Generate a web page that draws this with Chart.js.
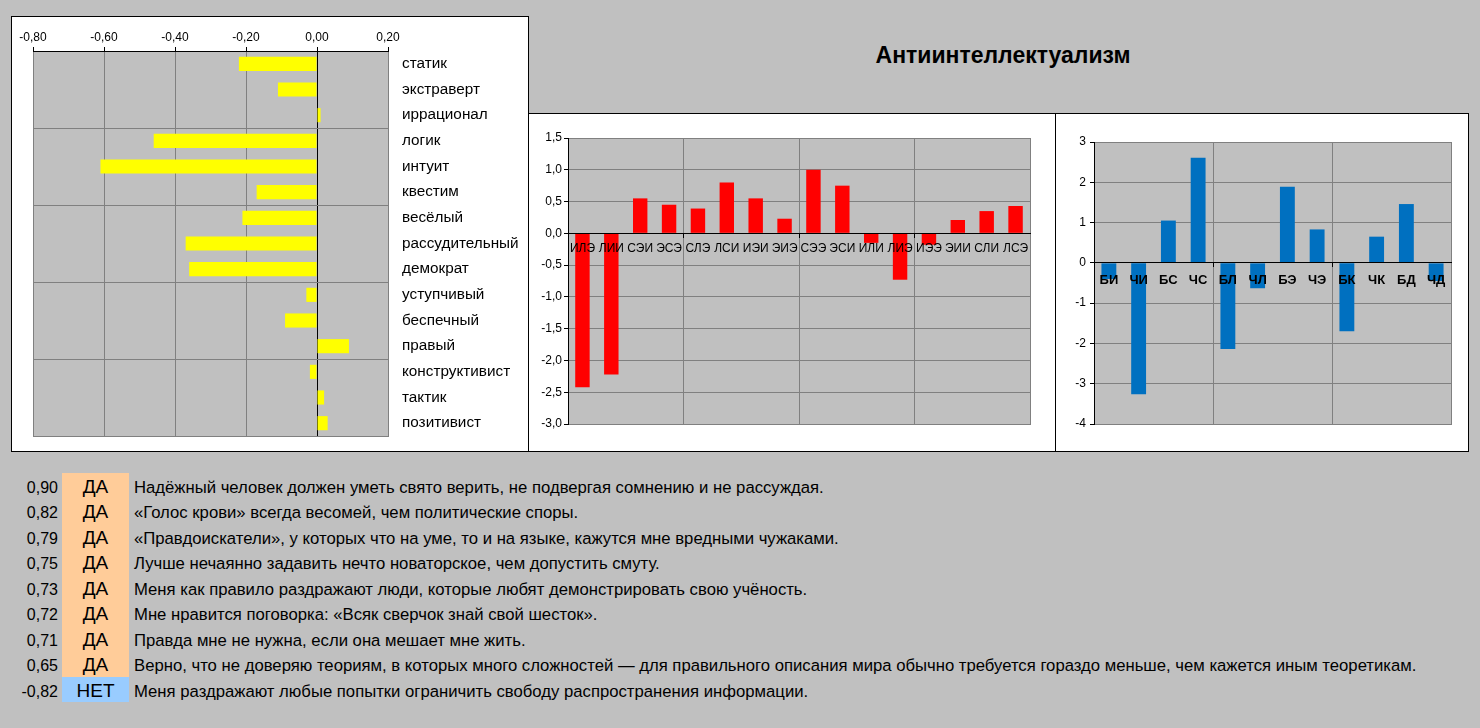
<!DOCTYPE html>
<html>
<head>
<meta charset="utf-8">
<script src="https://cdn.jsdelivr.net/npm/chart.js@4/dist/chart.umd.min.js"></script>
<style>
  body { margin: 0; background: #c0c0c0; font-family: Arial, "Liberation Sans", sans-serif; }
  .panel { position: absolute; box-sizing: border-box; border: 1px solid #000; background: #fff; }
  .panel canvas { display: block; }
  #title { position: absolute; left: 780px; width: 446px; top: 44px; line-height: 23px; text-align: center;
           font-weight: bold; font-size: 23px; color: #000; }
  .row { position: absolute; left: 0; height: 25.5px; line-height: 25.5px; font-size: 16px; color: #000; }
  .row .num { position: absolute; left: 0; width: 58px; text-align: right; top: 2px; }
  .row .ans { position: absolute; left: 62px; width: 67px; height: 25.5px; text-align: center; font-size: 19px; }
  .row .ans span { position: relative; top: 1px; }
  .row .txt { position: absolute; left: 134px; white-space: nowrap; top: 2px; font-size: 16.7px; }
</style>
</head>
<body>
<div class="panel" style="left:11px;top:16px;width:518px;height:436px;"><canvas id="traitChart" width="516" height="434"></canvas></div>
<div class="panel" style="left:528px;top:113px;width:528px;height:339px;"><canvas id="typeChart" width="526" height="337"></canvas></div>
<div class="panel" style="left:1055px;top:113px;width:414px;height:339px;"><canvas id="elementChart" width="412" height="337"></canvas></div>
<div id="title">Антиинтеллектуализм</div>
<div id="questions"></div>

<script>
const traitLabels = ["статик", "экстраверт", "иррационал", "логик", "интуит", "квестим", "весёлый",
  "рассудительный", "демократ", "уступчивый", "беспечный", "правый", "конструктивист", "тактик", "позитивист"];
const traitValues = [-0.22, -0.11, 0.01, -0.46, -0.61, -0.17, -0.21, -0.37, -0.36, -0.03, -0.09, 0.09, -0.02, 0.02, 0.03];

const typeLabels = ["ИЛЭ", "ЛИИ", "СЭИ", "ЭСЭ", "СЛЭ", "ЛСИ", "ИЭИ", "ЭИЭ", "СЭЭ", "ЭСИ", "ИЛИ", "ЛИЭ", "ИЭЭ", "ЭИИ", "СЛИ", "ЛСЭ"];
const typeValues = [-2.42, -2.22, 0.55, 0.45, 0.39, 0.80, 0.55, 0.23, 1.00, 0.75, -0.15, -0.73, -0.18, 0.21, 0.35, 0.43];

const elementLabels = ["БИ", "ЧИ", "БС", "ЧС", "БЛ", "ЧЛ", "БЭ", "ЧЭ", "БК", "ЧК", "БД", "ЧД"];
const elementValues = [-0.40, -3.26, 1.05, 2.61, -2.14, -0.63, 1.89, 0.83, -1.70, 0.65, 1.46, -0.45];

const questionScores = ["0,90", "0,82", "0,79", "0,75", "0,73", "0,72", "0,71", "0,65", "-0,82"];
const questionAnswers = ["ДА", "ДА", "ДА", "ДА", "ДА", "ДА", "ДА", "ДА", "НЕТ"];
const questionTexts = [
  "Надёжный человек должен уметь свято верить, не подвергая сомнению и не рассуждая.",
  "«Голос крови» всегда весомей, чем политические споры.",
  "«Правдоискатели», у которых что на уме, то и на языке, кажутся мне вредными чужаками.",
  "Лучше нечаянно задавить нечто новаторское, чем допустить смуту.",
  "Меня как правило раздражают люди, которые любят демонстрировать свою учёность.",
  "Мне нравится поговорка: «Всяк сверчок знай свой шесток».",
  "Правда мне не нужна, если она мешает мне жить.",
  "Верно, что не доверяю теориям, в которых много сложностей — для правильного описания мира обычно требуется гораздо меньше, чем кажется иным теоретикам.",
  "Меня раздражают любые попытки ограничить свободу распространения информации."
];

// question table
const box = document.getElementById("questions");
questionTexts.forEach((text, i) => {
  const row = document.createElement("div");
  row.className = "row";
  row.style.top = (472.5 + i * 25.5) + "px";
  const bg = questionAnswers[i] === "ДА" ? "#ffcc99" : "#99ccff";
  row.innerHTML = '<span class="num">' + questionScores[i] + '</span>' +
    '<div class="ans" style="background:' + bg + '"><span>' + questionAnswers[i] + '</span></div>' +
    '<span class="txt">' + text + '</span>';
  box.appendChild(row);
});

const FONT = "Arial, 'Liberation Sans', sans-serif";
const GRID = "#808080";

// gray plot area with a gray frame, drawn under grid and axes
const plotArea = {
  id: "plotArea",
  beforeDraw(c) {
    const { ctx, chartArea: a } = c;
    ctx.save();
    ctx.fillStyle = "#c0c0c0";
    ctx.fillRect(a.left, a.top, a.right - a.left, a.bottom - a.top);
    ctx.strokeStyle = GRID;
    ctx.lineWidth = 1;
    ctx.strokeRect(Math.round(a.left) + 0.5, Math.round(a.top) + 0.5,
      Math.round(a.right - a.left), Math.round(a.bottom - a.top));
    ctx.restore();
  }
};

const comma = (v, d) => v.toFixed(d).replace(".", ",");

new Chart(document.getElementById("traitChart"), {
  type: "bar",
  data: {
    labels: traitLabels,
    datasets: [{ data: traitValues, backgroundColor: "#ffff00", barPercentage: 0.55, categoryPercentage: 1 }]
  },
  plugins: [plotArea],
  options: {
    indexAxis: "y",
    responsive: false,
    animation: false,
    layout: { padding: { left: 21, right: 0, top: 0, bottom: 15 } },
    plugins: { legend: { display: false }, tooltip: { enabled: false } },
    scales: {
      x: {
        position: "top",
        min: -0.8, max: 0.2,
        afterFit: s => { s.height = 34; },
        ticks: { stepSize: 0.2, color: "#000", font: { family: FONT, size: 12 }, padding: 2,
          callback: v => comma(v, 2) },
        grid: { color: c => Math.abs(c.tick.value) < 1e-9 ? "#000" : GRID, tickColor: "#000", tickLength: 4 },
        border: { display: true, color: "#000" }
      },
      y: {
        position: "right",
        afterFit: s => { s.width = 140; },
        ticks: { color: "#000", font: { family: FONT, size: 15.3 }, padding: 0, autoSkip: false },
        grid: { color: c => (c.index % 3 === 0 && c.index > 0 && c.index < 15) ? GRID : "transparent",
          tickColor: "transparent", tickLength: 14 },
        border: { display: false }
      }
    }
  }
});

function columnChart(id, labels, values, color, yOpts, pad, every, labelFont, labelGap) {
  const n = labels.length;
  return new Chart(document.getElementById(id), {
    type: "bar",
    data: {
      labels: labels,
      datasets: [{ data: values, backgroundColor: color, barPercentage: 0.5, categoryPercentage: 1 }]
    },
    plugins: [plotArea],
    options: {
      responsive: false,
      animation: false,
      layout: { padding: pad },
      plugins: { legend: { display: false }, tooltip: { enabled: false } },
      scales: {
        x: {
          position: { y: 0 },
          ticks: { z: 1, color: "#000", font: labelFont, autoSkip: false, maxRotation: 0, minRotation: 0, padding: labelGap },
          grid: {
            color: c => (c.index % every === 0 && c.index > 0 && c.index < n) ? GRID : "transparent",
            tickColor: c => (c.index % every === 0 && c.index > 0 && c.index < n) ? "#000" : "transparent",
            tickLength: 4
          },
          border: { z: 1, display: true, color: "#000" }
        },
        y: Object.assign({
          afterFit: s => { s.width = pad.yWidth; },
          grid: { color: c => Math.abs(c.tick.value) < 1e-9 ? "#000" : GRID, tickColor: "#000", tickLength: 4 },
          border: { display: true, color: "#000" }
        }, yOpts)
      }
    }
  });
}

columnChart("typeChart", typeLabels, typeValues, "#ff0000",
  { min: -3, max: 1.5,
    ticks: { stepSize: 0.5, color: "#000", font: { family: FONT, size: 12 }, padding: 2, callback: v => comma(v, 1) } },
  { left: 0, right: 25, top: 24, bottom: 27, yWidth: 39 }, 4,
  { family: FONT, size: 12 }, 4);

columnChart("elementChart", elementLabels, elementValues, "#0070c0",
  { min: -4, max: 3,
    ticks: { stepSize: 1, color: "#000", font: { family: FONT, size: 12 }, padding: 4 } },
  { left: 0, right: 17, top: 28, bottom: 27, yWidth: 38 }, 4,
  { family: FONT, size: 13, weight: "bold" }, 6);
</script>
</body>
</html>
